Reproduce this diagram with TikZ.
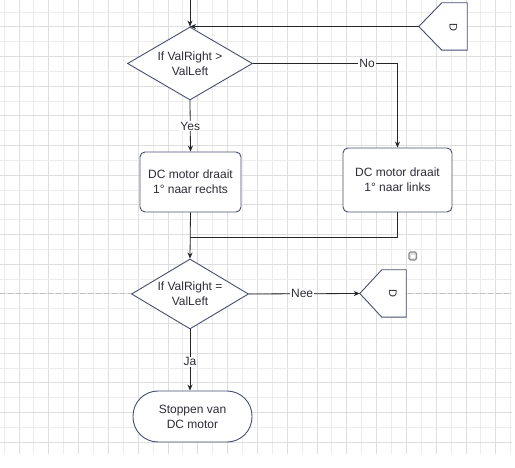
\documentclass[tikz,border=0pt]{standalone}
\usepackage{fontspec}
\setmainfont{Liberation Sans}
\usetikzlibrary{shapes.geometric,arrows.meta,calc}
\definecolor{shapeline}{RGB}{72,78,115}
\definecolor{txt}{RGB}{45,45,55}
\definecolor{gridA}{RGB}{236,236,236}
\definecolor{gridB}{RGB}{222,222,222}
\tikzset{
  every node/.style={font=\fontsize{12}{15}\selectfont, text=txt},
  decision/.style={diamond, draw=shapeline, fill=white, line width=0.9pt, aspect=1.7, inner sep=0pt, align=center},
  process/.style={rectangle, rounded corners=5pt, draw=shapeline, fill=white, line width=0.9pt, inner sep=0pt, align=center},
  terminal/.style={rectangle, rounded corners=25pt, draw=shapeline, fill=white, line width=0.9pt, inner sep=0pt, align=center},
  offframe/.style={rectangle, inner sep=0pt},
  offshape/.style={draw=shapeline, fill=white, line width=0.9pt},
  offtext/.style={font=\fontsize{11}{13}\selectfont, rotate=-90, inner sep=0pt},
  conn/.style={draw=black!85, line width=0.8pt},
  arr/.style={conn, -{Stealth[length=6pt,width=5pt]}},
  lbl/.style={fill=white, inner sep=1pt},
}
\begin{document}
\begin{tikzpicture}[x=1pt,y=-1pt]
\useasboundingbox (0,0) rectangle (515,468);
\fill[white] (0,0) rectangle (515,468);
% grid
\foreach \i in {0,...,34}{
  \pgfmathtruncatemacro{\odd}{mod(\i,2)}
  \ifnum\odd=1 \def\gc{gridB}\else\def\gc{gridA}\fi
  \draw[\gc, line width=0.8pt] ({4+14.9*\i},0) -- ({4+14.9*\i},454);
}
\foreach \j in {0,...,29}{
  \pgfmathtruncatemacro{\odd}{mod(\j,2)}
  \ifnum\odd=1 \def\gc{gridB}\else\def\gc{gridA}\fi
  \draw[\gc, line width=0.8pt] (0,{12+14.83*\j}) -- (512,{12+14.83*\j});
}
\draw[black!25, line width=0.8pt, dash pattern=on 5pt off 3pt] (0,293.5) -- (512,293.5);

% nodes
\coordinate (start) at (190,0);
\node[decision, minimum width=125pt, minimum height=73pt] (dia1) at (190,63.5) {If ValRight >\\ValLeft};
\node[process, minimum width=101pt, minimum height=60pt] (box1) at (190.5,182) {DC motor draait\\1° naar rechts};
\node[process, minimum width=109pt, minimum height=64pt] (box2) at (397.5,180) {DC motor draait\\1° naar links};
\node[decision, minimum width=117pt, minimum height=70pt] (dia2) at (190,294) {If ValRight =\\ValLeft};
\node[terminal, minimum width=119pt, minimum height=51pt] (term) at (192.5,416.5) {Stoppen van\\DC motor};

\node[offframe, minimum width=48pt, minimum height=47pt] (d1) at (443,26.5) {};
\path[offshape] (d1.west) -- ($(d1.north west)+(23,0)$) -- (d1.north east) -- (d1.south east) -- ($(d1.south west)+(23,0)$) -- cycle;
\node[offtext] (d1t) at (453.5,27) {D};

\node[offframe, minimum width=46pt, minimum height=47pt] (d2) at (383,293.5) {};
\path[offshape] (d2.west) -- ($(d2.north west)+(22,0)$) -- (d2.north east) -- (d2.south east) -- ($(d2.south west)+(22,0)$) -- cycle;
\node[offtext] (d2t) at (393,293.5) {D};

% small icon
\draw[black!45, line width=1.3pt, rounded corners=1.5pt, fill=black!12] (409,252) rectangle (416.5,260);
\fill[white] (411,255) rectangle (414.5,258.5);

% connectors
\draw[arr] (start) -- (dia1.north);
\draw[arr] (d1.west) -- (dia1.north);
\draw[arr] (dia1.east) -| node[lbl, pos=0.395] {No} (box2.north);
\draw[arr] (dia1.south) -- node[lbl, pos=0.5] {Yes} (box1.north);
\draw[arr] (box1.south) -- (dia2.north);
\coordinate (merge) at (190,237);
\draw[conn] (box2.south) |- (merge);
\draw[arr] (dia2.east) -- node[lbl, pos=0.48] {Nee} (d2.west);
\draw[arr] (dia2.south) -- node[lbl, pos=0.53] {Ja} (dia2.south |- term.north);
\end{tikzpicture}
\end{document}
